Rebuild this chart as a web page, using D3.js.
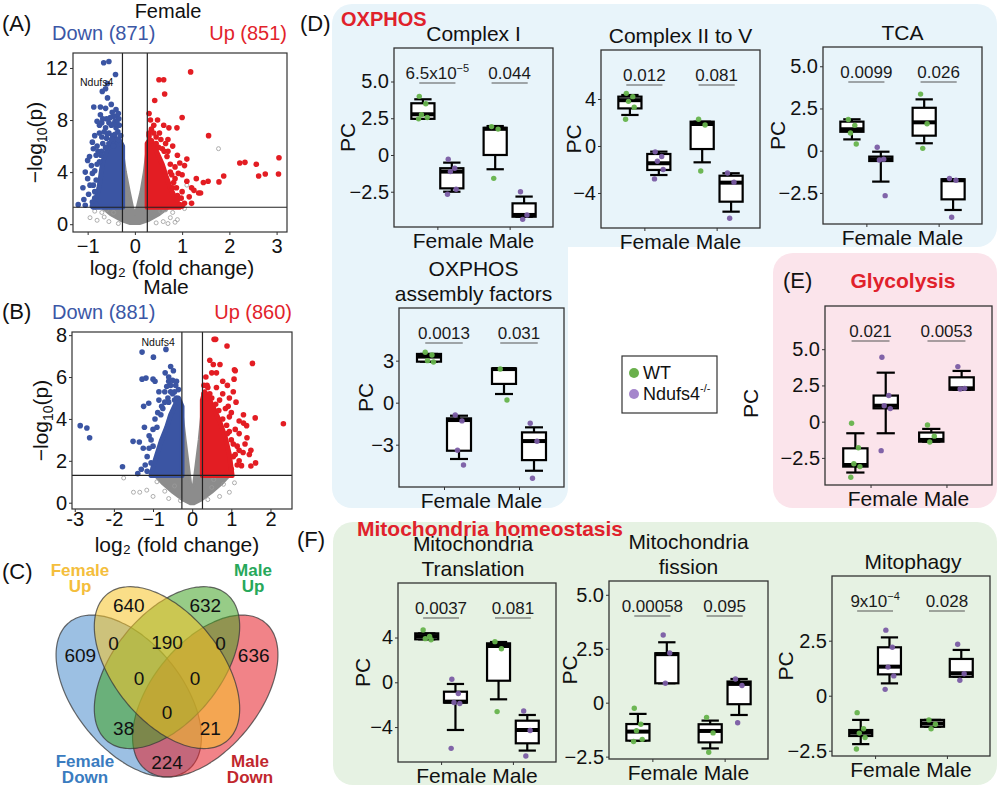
<!DOCTYPE html>
<html><head><meta charset="utf-8">
<script src="https://cdn.jsdelivr.net/npm/d3@7"></script>
<style>
body{margin:0;background:#fff;}
svg text{font-family:"Liberation Sans",Arial,Helvetica,sans-serif;}
</style></head><body>
<svg id="c" width="1000" height="788"></svg>
<script>
// ===================== DATA =====================
// Volcano plots: counts [down, up]
const volcanoCounts = [[871, 851], [881, 860]];
const fcCut = 0.263, pCut = 1.301;
const volcanoA_xTicks = [-1, 0, 1, 2, 3];
const volcanoA_xLabels = ["−1", "0", "1", "2", "3"];
const volcanoA_yTicks = [0, 4, 8, 12];
const volcanoB_xTicks = [-3, -2, -1, 0, 1, 2];
const volcanoB_xLabels = ["-3", "-2", "−1", "0", "1", "2"];
const volcanoB_yTicks = [0, 2, 4, 6, 8];

// dense clouds (outline of the solid areas), [log2FC, -log10 p]
const volcanoA_nsCloud = [[-0.26,1.3],[-0.26,5.5],[-0.2,4.0],[-0.12,2.5],[-0.05,1.3],[0,0.8],[0.05,1.3],[0.13,2.5],[0.2,4.0],[0.26,5.8],[0.26,1.3],[0.72,1.3],[0.52,0.75],[0.3,0.3],[0.1,0.05],[-0.1,0.05],[-0.3,0.3],[-0.52,0.75],[-0.7,1.3]];
const volcanoA_downCloud = [[-0.26,1.3],[-0.26,6.0],[-0.32,6.4],[-0.4,6.6],[-0.5,6.3],[-0.6,5.6],[-0.68,4.8],[-0.72,3.8],[-0.76,2.8],[-0.82,2.0],[-0.88,1.3]];
const volcanoA_upCloud = [[0.26,1.3],[0.26,6.2],[0.32,6.5],[0.4,6.1],[0.48,5.4],[0.58,4.6],[0.66,3.7],[0.75,2.8],[0.85,2.0],[0.95,1.3]];
const volcanoA_down = [[-0.66,12.4],[-0.55,12.5],[-0.41,11.5],[-0.58,10.8],[-0.62,10.4],[-0.69,10.2],[-0.58,9.7],[-0.87,9.0],[-0.73,9.0],[-0.62,8.9],[-0.45,8.3],[-0.38,8.3],[-0.73,8.4],[-0.34,8.1],[-0.42,7.9],[-0.75,7.6],[-0.5,7.6],[-0.62,7.4],[-0.75,7.0],[-0.55,7.0],[-0.36,7.1],[-0.85,6.8],[-0.6,6.6],[-0.9,6.3],[-0.8,6.0],[-0.55,6.2],[-0.88,5.8],[-0.96,5.2],[-0.82,5.3],[-1.0,4.9],[-0.92,4.5],[-1.05,4.0],[-0.9,3.9],[-1.0,3.5],[-0.95,3.0],[-1.1,2.8],[-0.85,2.5],[-0.98,2.3],[-1.08,1.9],[-0.9,1.7],[-1.2,1.5],[-1.05,1.45],[-0.82,1.5],[-0.75,4.8],[-0.7,5.6],[-0.47,6.8],[-0.4,7.4],[-0.3,6.8],[-0.45,6.0],[-0.68,6.2],[-0.33,7.6],[-0.52,8.2],
  [-0.35,6.5],[-0.42,6.9],[-0.5,6.5],[-0.58,6.9],[-0.65,7.1],[-0.7,6.7],[-0.62,5.9],[-0.72,5.3],[-0.78,5.6],[-0.8,4.6],[-0.85,4.1],[-0.82,3.4],[-0.88,3.0],[-0.85,2.0],[-0.9,1.4],[-0.38,7.8],[-0.45,7.7],[-0.55,7.8],[-0.6,8.1],[-0.48,8.6],[-0.4,8.8],[-0.35,8.5],[-0.5,9.2],[-0.68,8.1],[-0.8,7.9],[-0.7,7.8]];
const volcanoA_up = [[1.18,11.7],[0.51,11.1],[0.61,11.1],[0.63,10.0],[0.42,9.5],[0.3,8.5],[1.0,8.2],[0.4,7.6],[0.61,7.6],[0.72,7.4],[0.89,7.4],[1.56,6.8],[0.45,6.7],[0.52,7.0],[0.7,6.5],[0.8,6.0],[0.65,6.2],[1.1,5.0],[0.95,4.7],[1.05,4.5],[0.9,5.3],[2.22,4.7],[2.33,4.75],[2.57,4.6],[3.05,5.1],[1.88,3.7],[2.62,3.7],[2.76,3.85],[3.04,3.85],[1.78,3.25],[1.55,3.3],[1.45,3.2],[1.3,3.5],[1.1,3.3],[1.0,3.8],[0.85,3.5],[1.2,2.8],[1.35,2.4],[1.0,2.5],[0.9,2.2],[1.15,2.1],[1.05,1.6],[0.95,1.5],[1.2,1.6],[0.8,2.8],[0.75,4.0],[0.85,4.4],[0.35,6.4],[0.58,5.8],[1.25,2.6],[1.39,2.4],
  [0.3,7.0],[0.35,7.3],[0.45,6.2],[0.55,6.5],[0.62,5.6],[0.68,5.2],[0.75,4.6],[0.78,3.8],[0.82,3.2],[0.88,2.8],[0.9,1.9],[0.98,2.0],[1.0,1.4],[0.3,6.8],[0.5,5.9],[0.4,7.0],[0.33,8.0],[0.48,8.0],[0.7,5.6],[0.92,3.9]];
const volcanoA_ns = [[1.77,5.8],[1.1,3.0],[-0.95,0.5],[-0.8,0.3],[-0.7,0.9],[-0.55,0.2],[0.6,0.2],[0.75,0.5],[0.85,0.15],[0.9,0.35],[0.55,1.0],[-0.45,0.9],[-0.6,1.1],[0.65,1.1],[0.45,0.1],[-0.35,0.05],[-0.85,1.0],[0.8,0.9],[0.7,0.05],[-0.65,0.55],[1.05,1.2]];

const volcanoB_nsCloud = [[-0.26,1.3],[-0.26,4.3],[-0.18,3.0],[-0.1,1.8],[-0.04,0.9],[0,0.7],[0.04,0.9],[0.1,1.8],[0.18,3.0],[0.26,4.5],[0.26,1.3],[0.95,1.3],[0.75,0.9],[0.5,0.5],[0.25,0.15],[0.05,-0.05],[-0.05,-0.05],[-0.25,0.15],[-0.5,0.5],[-0.75,0.9],[-0.95,1.3]];
const volcanoB_downCloud = [[-0.26,1.3],[-0.26,4.6],[-0.35,5.0],[-0.45,4.6],[-0.55,4.2],[-0.65,3.6],[-0.78,3.0],[-0.9,2.3],[-1.0,1.7],[-1.05,1.3]];
const volcanoB_upCloud = [[0.26,1.3],[0.26,4.9],[0.32,5.3],[0.42,5.0],[0.55,4.5],[0.7,3.9],[0.85,3.1],[0.95,2.3],[1.02,1.3]];
const volcanoB_down = [[-2.86,3.68],[-2.69,3.57],[-2.62,3.1],[-1.78,1.72],[-1.51,2.93],[-1.39,1.39],[-1.28,7.19],[-0.99,6.95],[-0.67,7.32],[-1.28,5.9],[-1.18,5.95],[-1.24,4.6],[-1.11,4.75],[-1.22,3.6],[-1.0,5.9],[-0.95,5.8],[-0.69,6.2],[-0.6,5.8],[-0.5,5.85],[-0.55,5.6],[-0.7,5.3],[-0.55,5.3],[-0.45,5.3],[-0.85,4.9],[-0.6,4.8],[-0.45,4.9],[-0.75,4.5],[-1.35,2.9],[-1.25,2.6],[-1.1,3.2],[-1.0,2.7],[-1.15,2.2],[-1.05,1.9],[-1.2,1.8],[-0.35,4.8],[-0.4,5.0],[-0.8,4.2],[-0.9,3.6],[-0.6,6.0],[-0.65,5.55],
  [-0.35,5.4],[-0.42,5.6],[-0.5,5.2],[-0.62,5.0],[-0.7,4.8],[-0.78,4.6],[-0.88,4.3],[-0.95,4.0],[-1.0,3.5],[-1.05,3.0],[-1.1,2.6],[-1.15,1.5],[-1.3,1.6],[-0.48,6.3],[-0.55,6.5],[-0.4,5.8],[-0.85,5.3]];
const volcanoB_up = [[0.56,7.8],[0.6,7.8],[0.89,7.48],[1.54,6.65],[0.54,6.6],[0.71,6.6],[1.1,6.3],[1.08,6.35],[0.5,6.2],[1.07,5.9],[0.3,5.6],[0.38,5.6],[0.62,5.5],[1.05,5.3],[0.95,5.0],[1.12,4.8],[0.78,5.2],[0.85,4.5],[1.0,4.3],[1.61,4.05],[1.31,3.8],[1.39,3.68],[1.31,4.2],[2.33,3.77],[1.2,3.9],[1.1,3.5],[1.0,3.0],[1.15,2.7],[1.3,2.4],[1.05,2.2],[1.15,1.8],[1.26,1.77],[1.46,2.3],[1.5,1.75],[1.2,2.5],[0.9,3.3],[1.4,3.1],[0.45,5.2],[0.7,4.9],[0.95,4.1],
  [0.3,5.2],[0.4,5.5],[0.5,5.0],[0.6,4.7],[0.68,4.4],[0.78,4.0],[0.88,3.7],[0.95,3.4],[1.05,2.8],[1.1,2.3],[1.2,2.0],[1.0,1.6],[0.35,6.0],[0.45,6.8],[0.62,6.2],[0.78,5.8],[0.9,5.6],[0.92,4.6],[1.2,3.3],[1.35,2.8],[1.5,2.5],[1.62,1.9]];
const volcanoB_ns = [[-1.75,1.18],[-1.5,0.5],[-1.34,0.5],[-1.16,0.6],[-0.7,0.55],[1.08,0.95],[0.8,0.88],[-0.45,0.8],[0.5,0.73],[-0.9,1.0],[0.95,0.5],[-1.0,0.3],[0.7,0.3],[-0.6,0.2],[0.55,1.1],[0.4,0.15],[-0.3,0.1]];

// Venn (C)
const vennSets = ["Female Down", "Female Up", "Male Up", "Male Down"];
const vennCounts = [640, 632, 609, 636, 0, 190, 0, 0, 0, 0, 38, 21, 224];

// Box plots: order [Female WT, Female KO, Male WT, Male KO]; stats [lo, q1, median, q3, hi]
const sexes = ["Female", "Male"];
const genotypes = ["WT", "Ndufs4"];

const complexI_box = [[2.46,2.46,2.77,3.52,3.79],[-2.5,-2.27,-1.13,-0.9,-0.52],[-0.97,0.0,1.78,1.85,1.97],[-4.2,-4.2,-4.08,-3.29,-2.83]];
const complexI_pts = [[3.99,3.49,2.74,2.55,2.46],[-0.29,-0.9,-1.13,-2.33,-2.67],[1.93,1.76,-1.59],[-2.5,-4.08,-4.38]];
const complexI_p = ["6.5x10^-5", "0.044"];
const complexI_ticks = [-2.5, 0, 2.5, 5.0];

const complexII_box = [[2.64,3.2,3.9,4.2,4.34],[-2.47,-2.04,-1.47,-0.68,-0.48],[-1.39,-0.26,1.87,2.07,2.07],[-5.59,-4.74,-3.12,-2.53,-2.32]];
const complexII_pts = [[4.48,4.2,3.8,3.3,2.27],[-0.5,-0.9,-1.3,-2.0,-2.8],[2.27,1.79,-2.13],[-2.3,-3.09,-6.15]];
const complexII_p = ["0.012", "0.081"];
const complexII_ticks = [-4, 0, 4];

const tca_box = [[0.67,1.12,1.27,1.72,1.86],[-1.83,-0.61,-0.51,-0.35,-0.06],[0.44,0.89,1.68,2.54,3.04],[-3.51,-2.88,-1.75,-1.69,-1.69]];
const tca_pts = [[1.85,1.5,1.05,0.4],[0.2,-0.5,-0.55,-2.66],[3.35,1.6,0.14],[-1.65,-1.75,-3.94]];
const tca_p = ["0.0099", "0.026"];
const tca_ticks = [-2.5, 0, 2.5, 5.0];

const assembly_box = [[2.93,2.93,3.29,3.48,3.48],[-4.02,-3.43,-1.24,-1.12,-0.93],[0.62,1.34,2.4,2.45,2.45],[-4.86,-4.1,-2.74,-2.12,-1.76]];
const assembly_pts = [[3.6,3.4,3.0,2.9],[-0.88,-1.3,-3.4,-4.45],[2.4,0.19],[-1.47,-2.75,-5.4]];
const assembly_p = ["0.0013", "0.031"];
const assembly_ticks = [-3, 0, 3];

const glyco_box = [[-3.51,-3.1,-2.99,-1.84,-0.8],[-0.8,0.92,1.1,1.8,3.38],[-1.38,-1.38,-1.26,-0.75,-0.5],[2.2,2.2,2.3,3.06,3.5]];
const glyco_pts = [[-0.11,-1.8,-2.9,-3.1,-3.84],[4.44,1.8,1.1,0.9,-2.0],[-0.23,-1.0,-1.4],[3.8,2.3,2.25]];
const glyco_p = ["0.021", "0.0053"];
const glyco_ticks = [-2.5, 0, 2.5, 5.0];

const transl_box = [[3.84,3.84,4.13,4.37,4.37],[-4.26,-1.82,-1.73,-0.84,-0.15],[-1.52,0.14,3.24,3.48,3.6],[-6.1,-5.45,-4.26,-3.43,-2.92]];
const transl_pts = [[4.67,4.1,3.9,3.8],[0.27,-1.0,-1.8,-1.9,-5.9],[3.63,3.0,-2.62],[-2.56,-4.3,-6.58]];
const transl_p = ["0.0037", "0.081"];
const transl_ticks = [-4, 0, 4];

const fission_box = [[-1.76,-1.76,-1.34,-0.99,-0.52],[0.9,0.9,2.25,2.29,2.8],[-2.12,-1.84,-1.31,-1.0,-0.83],[-0.57,-0.07,0.87,0.98,1.1]];
const fission_pts = [[-0.26,-1.0,-1.3,-1.7,-1.8],[3.14,2.3,0.9],[-0.68,-1.4,-2.3],[1.1,0.8,-0.93]];
const fission_p = ["0.00058", "0.095"];
const fission_ticks = [-2.5, 0, 2.5, 5.0];

const mitophagy_box = [[-2.2,-1.83,-1.68,-1.56,-1.1],[0.56,0.97,1.32,2.2,2.65],[-1.41,-1.41,-1.26,-1.1,-1.1],[0.86,0.86,1.02,1.67,2.08]];
const mitophagy_pts = [[-0.77,-1.5,-1.7,-1.9,-2.42],[2.98,2.2,1.3,0.9,0.29],[-1.1,-1.3,-1.5],[2.34,1.0,0.7]];
const mitophagy_p = ["9x10^-4", "0.028"];
const mitophagy_ticks = [-2.5, 0, 2.5];

// ===================== DRAWING =====================
const svg = d3.select("#c");
const FONT = "'Liberation Sans', Arial, Helvetica, sans-serif";
const BLUE_T = "#3b57a6", RED_T = "#e2232b", TITLE_RED = "#e0212b";
const C_DOWN = "#3b55a3", C_UP = "#e31d23", C_NS = "#8c8c8c";
const C_WT = "#66b34c", C_KO = "#7a5ca4";

function txt(g, x, y, s, size, opts = {}) {
  const t = g.append("text").attr("x", x).attr("y", y).attr("font-size", size)
    .attr("font-family", FONT).attr("fill", opts.fill || "#111")
    .attr("text-anchor", opts.anchor || "start")
    .attr("font-weight", opts.weight || "normal");
  if (opts.transform) t.attr("transform", opts.transform);
  t.text(s);
  return t;
}
function supText(t, str, supSize, dy) {
  const parts = str.split("^");
  t.text(null);
  t.append("tspan").text(parts[0]);
  if (parts[1]) t.append("tspan").attr("font-size", supSize).attr("dy", dy).text(parts[1].replace("-", "−"));
  return t;
}

// ---------- panel backgrounds ----------
svg.append("rect").attr("x", 332).attr("y", 4).attr("width", 665).attr("height", 243).attr("rx", 20).attr("fill", "#e8f4fa");
svg.append("rect").attr("x", 332).attr("y", 180).attr("width", 236).attr("height", 328).attr("rx", 20).attr("fill", "#e8f4fa");
svg.append("rect").attr("x", 773).attr("y", 253).attr("width", 224).attr("height", 255).attr("rx", 20).attr("fill", "#fbe4eb");
svg.append("rect").attr("x", 333).attr("y", 522).attr("width", 664).attr("height", 263).attr("rx", 20).attr("fill", "#e6f2e3");

// ---------- volcano ----------
function volcano(cfg) {
  const g = svg.append("g");
  const x = d3.scaleLinear().domain(cfg.xd).range([cfg.x0, cfg.x1]);
  const y = d3.scaleLinear().domain(cfg.yd).range([cfg.y1, cfg.y0]);
  const clipId = "clip" + cfg.id;
  svg.append("clipPath").attr("id", clipId).append("rect")
    .attr("x", cfg.x0).attr("y", cfg.y0).attr("width", cfg.x1 - cfg.x0).attr("height", cfg.y1 - cfg.y0);
  const pg = g.append("g").attr("clip-path", `url(#${clipId})`);
  const line = d3.line().x(d => x(d[0])).y(d => y(d[1])).curve(d3.curveLinearClosed);
  pg.append("path").attr("d", line(cfg.nsCloud)).attr("fill", C_NS).attr("stroke", C_NS).attr("stroke-width", 3).attr("stroke-linejoin", "round");
  pg.selectAll(".ns").data(cfg.ns).join("circle").attr("cx", d => x(d[0])).attr("cy", d => y(d[1])).attr("r", 2)
    .attr("fill", "none").attr("stroke", "#9a9a9a").attr("stroke-width", 0.8);
  pg.append("path").attr("d", line(cfg.downCloud)).attr("fill", C_DOWN).attr("stroke", C_DOWN).attr("stroke-width", 5).attr("stroke-linejoin", "round");
  pg.append("path").attr("d", line(cfg.upCloud)).attr("fill", C_UP).attr("stroke", C_UP).attr("stroke-width", 5).attr("stroke-linejoin", "round");
  pg.selectAll(".dn").data(cfg.down).join("circle").attr("cx", d => x(d[0])).attr("cy", d => y(d[1])).attr("r", 2.8).attr("fill", C_DOWN);
  pg.selectAll(".up").data(cfg.up).join("circle").attr("cx", d => x(d[0])).attr("cy", d => y(d[1])).attr("r", 2.8).attr("fill", C_UP);
  [-fcCut, fcCut].forEach(v => g.append("line").attr("x1", x(v)).attr("x2", x(v)).attr("y1", cfg.y0).attr("y2", cfg.y1).attr("stroke", "#222").attr("stroke-width", 1.2));
  g.append("line").attr("x1", cfg.x0).attr("x2", cfg.x1).attr("y1", y(pCut)).attr("y2", y(pCut)).attr("stroke", "#222").attr("stroke-width", 1.2);
  g.append("rect").attr("x", cfg.x0).attr("y", cfg.y0).attr("width", cfg.x1 - cfg.x0).attr("height", cfg.y1 - cfg.y0)
    .attr("fill", "none").attr("stroke", "#333").attr("stroke-width", 1.2);
  const xa = g.append("g").attr("transform", `translate(0,${cfg.y1})`)
    .call(d3.axisBottom(x).tickValues(cfg.xTicks).tickFormat((d, i) => cfg.xLabels[i]).tickSize(3).tickSizeOuter(0).tickPadding(cfg.xPad));
  const ya = g.append("g").attr("transform", `translate(${cfg.x0},0)`)
    .call(d3.axisLeft(y).tickValues(cfg.yTicks).tickSize(3).tickSizeOuter(0).tickPadding(2));
  [xa, ya].forEach(a => {
    a.select(".domain").remove();
    a.attr("font-size", 20).attr("font-family", FONT);
    a.selectAll("text").attr("fill", "#111");
    a.selectAll("line").attr("stroke", "#333");
  });
  txt(g, x(cfg.label[1]), y(cfg.label[2]), cfg.label[0], 10.5, { anchor: "middle" });
  txt(g, 52, cfg.countY, `Down (${cfg.counts[0]})`, 20, { fill: BLUE_T });
  txt(g, cfg.x1, cfg.countY, `Up (${cfg.counts[1]})`, 20, { fill: RED_T, anchor: "end" });
  const cy = (cfg.y0 + cfg.y1) / 2;
  const yl = g.append("text").attr("transform", `translate(${cfg.ylabX},${cy}) rotate(-90)`)
    .attr("text-anchor", "middle").attr("font-size", 21).attr("font-family", FONT).attr("fill", "#111");
  yl.append("tspan").text("−log");
  yl.append("tspan").attr("font-size", 14).attr("dy", 5).text("10");
  yl.append("tspan").attr("dy", -5).text("(p)");
  txt(g, cfg.xlabCX, cfg.xlabY, "log₂ (fold change)", 21, { anchor: "middle" });
  return { x, y };
}

volcano({ id: "A", x0: 73, x1: 287, y0: 53, y1: 232, xd: [-1.31, 3.22], yd: [-0.6, 13.15],
  nsCloud: volcanoA_nsCloud, downCloud: volcanoA_downCloud, upCloud: volcanoA_upCloud,
  ns: volcanoA_ns, down: volcanoA_down, up: volcanoA_up,
  xTicks: volcanoA_xTicks, xLabels: volcanoA_xLabels, yTicks: volcanoA_yTicks, xPad: 4,
  label: ["Ndufs4", -0.81, 10.6], counts: volcanoCounts[0], countY: 40, ylabX: 42, xlabCX: 172, xlabY: 275 });
volcano({ id: "B", x0: 72, x1: 292, y0: 332, y1: 509, xd: [-3.07, 2.55], yd: [-0.3, 8.15],
  nsCloud: volcanoB_nsCloud, downCloud: volcanoB_downCloud, upCloud: volcanoB_upCloud,
  ns: volcanoB_ns, down: volcanoB_down, up: volcanoB_up,
  xTicks: volcanoB_xTicks, xLabels: volcanoB_xLabels, yTicks: volcanoB_yTicks, xPad: 0,
  label: ["Ndufs4", -0.87, 7.5], counts: volcanoCounts[1], countY: 319, ylabX: 48, xlabCX: 177, xlabY: 552 });

txt(svg, 168, 18, "Female", 20, { anchor: "middle" });
txt(svg, 166, 294, "Male", 21, { anchor: "middle" });
txt(svg, 2, 31, "(A)", 22);
txt(svg, 2, 319, "(B)", 22);
txt(svg, 2, 579, "(C)", 22);
txt(svg, 300, 31, "(D)", 22);
txt(svg, 783, 288, "(E)", 22);
txt(svg, 297, 547, "(F)", 22);

// ---------- Venn ----------
(function venn() {
  const xV = d3.scaleLinear().domain([0, 1]).range([167 - 127.5, 167 + 127.5]);
  const yV = d3.scaleLinear().domain([0, 1]).range([829.5, 545.5]);
  const ell = [
    { c: [0.35, 0.47], rot: -45, fill: "#4a8ccc" },
    { c: [0.65, 0.47], rot: 45, fill: "#e61e26" },
    { c: [0.50, 0.57], rot: 45, fill: "#42a324" },
    { c: [0.50, 0.57], rot: -45, fill: "#f5c227" }
  ];
  const g = svg.append("g");
  ell.forEach(e => {
    const th = e.rot * Math.PI / 180, pts = [];
    for (let k = 0; k < 120; k++) {
      const t = k / 120 * 2 * Math.PI;
      const u = e.c[0] + 0.35 * Math.cos(t) * Math.cos(th) - 0.2 * Math.sin(t) * Math.sin(th);
      const v = e.c[1] + 0.35 * Math.cos(t) * Math.sin(th) + 0.2 * Math.sin(t) * Math.cos(th);
      pts.push([xV(u), yV(v)]);
    }
    g.append("path").attr("d", d3.line().curve(d3.curveCardinalClosed)(pts))
      .attr("fill", e.fill).attr("fill-opacity", 0.55).attr("stroke", "#3a3a3a").attr("stroke-opacity", 0.75).attr("stroke-width", 1.2);
  });
  const pos = [[0.35,0.79],[0.65,0.79],[0.16,0.614],[0.84,0.614],[0.29,0.657],[0.5,0.66],[0.71,0.657],[0.39,0.533],[0.61,0.533],[0.5,0.414],[0.33,0.357],[0.67,0.357],[0.5,0.238]];
  vennCounts.forEach((n, i) => txt(g, xV(pos[i][0]), yV(pos[i][1]) + 7, n, 19, { anchor: "middle" }));
  const setLab = [
    { name: vennSets[1], x: 80, y: 576, fill: "#f4be3c" },
    { name: vennSets[2], x: 253, y: 576, fill: "#27a85a" },
    { name: vennSets[0], x: 85, y: 767, fill: "#3a7cc0" },
    { name: vennSets[3], x: 250, y: 767, fill: "#c1272e" }
  ];
  setLab.forEach(s => {
    const [a, b] = s.name.split(" ");
    txt(g, s.x, s.y, a, 17, { anchor: "middle", fill: s.fill, weight: "bold" });
    txt(g, s.x, s.y + 16, b, 17, { anchor: "middle", fill: s.fill, weight: "bold" });
  });
})();

// ---------- box plots ----------
const jit = [-0.05, 0.04, -0.02, 0.06, -0.06, 0.02];

function boxPanel(L) {
  const g = svg.append("g");
  const x = d3.scalePoint().domain(sexes).range([L.x0, L.x0 + L.w]).padding(0.6);
  const step = x.step();
  const y = d3.scaleLinear().domain(L.yd).range([L.y0 + L.h, L.y0]);
  const dec = L.ticks.some(t => !Number.isInteger(t));
  const fmtTick = v => v === 0 ? "0" : (dec ? v.toFixed(1) : String(v)).replace("-", "−");
  g.append("rect").attr("x", L.x0).attr("y", L.y0).attr("width", L.w).attr("height", L.h)
    .attr("fill", "none").attr("stroke", "#333").attr("stroke-width", 1.3);
  const ya = g.append("g").attr("transform", `translate(${L.x0},0)`)
    .call(d3.axisLeft(y).tickValues(L.ticks).tickFormat(fmtTick).tickSize(3).tickSizeOuter(0).tickPadding(2));
  const xa = g.append("g").attr("transform", `translate(0,${L.y0 + L.h})`)
    .call(d3.axisBottom(x).tickSize(3).tickSizeOuter(0).tickFormat(""));
  [ya, xa].forEach(a => {
    a.select(".domain").remove();
    a.attr("font-size", 20).attr("font-family", FONT);
    a.selectAll("text").attr("fill", "#111");
    a.selectAll("line").attr("stroke", "#333");
  });
  txt(g, L.x0 + L.w / 2, L.y0 + L.h + 21, sexes.join(" "), 21, { anchor: "middle" });
  txt(g, 0, 0, "PC", 21, { anchor: "middle", transform: `translate(${L.x0 - L.pcOff},${L.y0 + L.h / 2 + (L.pcDy || 0)}) rotate(-90)` });
  if (L.title) {
    const n = L.title.length;
    L.title.forEach((s, i) => txt(g, L.x0 + L.w / 2 + (L.tdx || 0), L.y0 - 7 - (n - 1 - i) * 25, s, 21, { anchor: "middle" }));
  }
  L.boxes.forEach((b, i) => {
    const sex = sexes[Math.floor(i / 2)], gt = i % 2;
    const cx = x(sex) + (gt ? 1 : -1) * 0.2 * step;
    const bw = 0.32 * step, cw = 0.24 * step;
    const [lo, q1, md, q3, hi] = b;
    g.append("line").attr("x1", cx).attr("x2", cx).attr("y1", y(lo)).attr("y2", y(hi)).attr("stroke", "#000").attr("stroke-width", 2.2);
    [lo, hi].forEach(v => g.append("line").attr("x1", cx - cw / 2).attr("x2", cx + cw / 2).attr("y1", y(v)).attr("y2", y(v)).attr("stroke", "#000").attr("stroke-width", 2.2));
    g.append("rect").attr("x", cx - bw / 2).attr("y", y(q3)).attr("width", bw).attr("height", Math.max(0.5, y(q1) - y(q3)))
      .attr("fill", "#fff").attr("stroke", "#000").attr("stroke-width", 2.2);
    g.append("line").attr("x1", cx - bw / 2).attr("x2", cx + bw / 2).attr("y1", y(md)).attr("y2", y(md)).attr("stroke", "#000").attr("stroke-width", 4);
  });
  L.pts.forEach((arr, i) => {
    const sex = sexes[Math.floor(i / 2)], gt = i % 2;
    const cx = x(sex) + (gt ? 1 : -1) * 0.2 * step;
    g.selectAll(null).data(arr).join("circle")
      .attr("cx", (d, k) => cx + jit[k] * step).attr("cy", d => y(d)).attr("r", 2.7)
      .attr("fill", gt ? C_KO : C_WT).attr("fill-opacity", 0.95);
  });
  L.p.forEach((s, i) => {
    const cx = x(sexes[i]);
    const t = txt(g, cx, L.y0 + 31, "", 17, { anchor: "middle", fill: "#1a1a1a" });
    supText(t, s, 11, -7);
    g.append("line").attr("x1", cx - 0.25 * step).attr("x2", cx + 0.25 * step).attr("y1", L.y0 + 35).attr("y2", L.y0 + 35)
      .attr("stroke", "#555").attr("stroke-width", 1.1);
  });
}

const pcLayout = [
  { title: ["Complex I"], x0: 394, y0: 48, w: 159, h: 179, yd: [-4.9, 7.28], pcOff: 39, boxes: complexI_box, pts: complexI_pts, p: complexI_p, ticks: complexI_ticks },
  { title: ["Complex II to V"], x0: 601, y0: 50, w: 159, h: 178, yd: [-6.98, 8.17], pcOff: 20, boxes: complexII_box, pts: complexII_pts, p: complexII_p, ticks: complexII_ticks },
  { title: ["TCA"], x0: 823, y0: 47, w: 159, h: 177, yd: [-4.34, 6.14], pcOff: 38, boxes: tca_box, pts: tca_pts, p: tca_p, ticks: tca_ticks },
  { title: ["OXPHOS", "assembly factors"], tdx: -8, x0: 399, y0: 308, w: 165, h: 179, yd: [-6.02, 6.76], pcOff: 26, boxes: assembly_box, pts: assembly_pts, p: assembly_p, ticks: assembly_ticks },
  { title: null, x0: 825, y0: 306, w: 167, h: 179, yd: [-4.37, 7.98], pcOff: 67, pcDy: 8, boxes: glyco_box, pts: glyco_pts, p: glyco_p, ticks: glyco_ticks },
  { title: ["Mitochondria", "Translation"], tdx: -4, x0: 398, y0: 583, w: 158, h: 179, yd: [-7.12, 8.87], pcOff: 28, boxes: transl_box, pts: transl_pts, p: transl_p, ticks: transl_ticks },
  { title: ["Mitochondria", "fission"], x0: 609, y0: 581, w: 159, h: 178, yd: [-2.61, 5.64], pcOff: 32, boxes: fission_box, pts: fission_pts, p: fission_p, ticks: fission_ticks },
  { title: ["Mitophagy"], tdx: 2, x0: 832, y0: 576, w: 158, h: 180, yd: [-2.74, 5.44], pcOff: 39, boxes: mitophagy_box, pts: mitophagy_pts, p: mitophagy_p, ticks: mitophagy_ticks }
];
pcLayout.forEach(boxPanel);

txt(svg, 341, 26, "OXPHOS", 20, { fill: TITLE_RED, weight: "bold" });
txt(svg, 903, 288, "Glycolysis", 21, { fill: TITLE_RED, weight: "bold", anchor: "middle" });
txt(svg, 357, 536, "Mitochondria homeostasis", 21, { fill: TITLE_RED, weight: "bold" });

(function legend() {
  const g = svg.append("g");
  g.append("rect").attr("x", 622).attr("y", 356).attr("width", 95).attr("height", 57).attr("fill", "#fff").attr("stroke", "#333").attr("stroke-width", 1.2);
  g.append("circle").attr("cx", 634).attr("cy", 373).attr("r", 5).attr("fill", "#6ab04c");
  g.append("circle").attr("cx", 634).attr("cy", 394).attr("r", 5).attr("fill", "#a586cc");
  txt(g, 643, 379, genotypes[0], 18);
  const t = txt(g, 643, 400, "", 18);
  supText(t, genotypes[1] + "^-/-", 11, -8);
  t.select("tspan:nth-child(2)").text("-/-");
})();
</script></body></html>
